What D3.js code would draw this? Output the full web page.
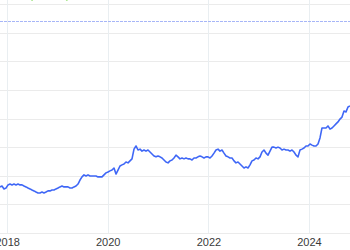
<!DOCTYPE html>
<html>
<head>
<meta charset="utf-8">
<script src="https://cdn.jsdelivr.net/npm/d3@7"></script>
<style>
  body { margin: 0; background: #fff; }
  svg { display: block; font-family: "Liberation Sans", Arial, sans-serif; }
</style>
</head>
<body>
<script>
console.log("price line chart");

/*
		 GLOBAL LAYOUT CONSTANTS
*/
var width = 350;
var height = 250;
var plotBottom = 233;
var plotTop = 4;

/*
		 DATA
		 one value every ~2 weeks, Nov 2017 to Oct 2024
*/
var startDate = new Date(2017, 10, 10);
var endDate = new Date(2024, 9, 25);

var values = [
  16.1,16.4,15.4,15.7,16.8,17.1,16.8,17.1,16.8,17.1,
  16.8,16.8,16.4,16.1,15.7,15.4,15.0,14.7,14.3,14.0,
  14.0,14.3,14.0,14.3,14.7,14.7,15.0,15.0,15.4,15.7,
  16.1,16.4,16.1,16.1,16.1,15.7,15.7,16.1,16.4,17.1,
  18.5,19.6,20.3,19.9,20.3,19.9,19.9,19.9,19.9,19.6,
  19.6,19.6,20.3,21.0,21.3,21.7,22.0,22.7,20.6,22.0,
  23.4,23.8,24.1,24.8,24.5,25.2,25.9,29.3,30.4,29.0,
  29.3,28.6,29.0,28.6,29.0,28.3,27.6,26.9,26.6,26.9,
  26.6,26.2,25.5,24.8,24.5,25.2,25.5,26.2,27.2,26.6,
  25.9,26.2,25.9,26.2,25.9,25.9,25.5,26.2,26.2,26.6,
  26.9,26.6,26.2,26.6,26.6,26.2,26.9,27.9,29.0,29.3,
  28.6,29.0,27.9,26.9,26.6,26.2,26.2,25.2,24.5,24.8,
  24.1,23.4,22.7,23.1,22.7,23.8,25.2,25.5,26.2,25.9,
  26.6,28.3,29.0,27.9,27.2,28.6,30.0,30.0,29.7,30.0,
  29.7,29.0,29.3,29.0,29.0,28.6,29.0,28.3,27.2,26.6,
  29.0,29.3,29.7,30.4,30.4,31.1,30.7,30.4,30.4,31.1,
  33.2,36.7,36.7,36.7,37.4,36.3,36.7,37.4,38.1,38.8,
  39.8,40.5,42.6,42.3,44.0,44.4
];

var yTicks = [0, 10, 20, 30, 40, 50, 60, 70, 80];
var xTickYears = [2018, 2020, 2022, 2024];
var refValue = 74.1;
var markerDates = [new Date(2018, 6, 1), new Date(2019, 2, 10)];

// observation dates, evenly spaced over the range
var step = (endDate - startDate) / (values.length - 1);
var dataset = values.map(function(v, i) {
  return {date: new Date(startDate.getTime() + i * step), value: v};
});

/*
		 SCALES
*/
var x = d3.scaleTime()
    .domain([startDate, endDate])
    .range([0, width]);

var y = d3.scaleLinear()
    .domain([0, 80])
    .range([plotBottom, plotTop]);

var svg = d3.select("body").append("svg")
    .attr("width", width)
    .attr("height", height);

// horizontal grid
svg.append("g").selectAll("line")
    .data(yTicks)
  .enter().append("line")
    .attr("x1", 0)
    .attr("x2", width)
    .attr("y1", function(d) { return Math.round(y(d)) + 0.5; })
    .attr("y2", function(d) { return Math.round(y(d)) + 0.5; })
    .style("stroke", "#ebebeb");

// vertical grid
svg.append("g").selectAll("line")
    .data(xTickYears)
  .enter().append("line")
    .attr("x1", function(d) { return Math.round(x(new Date(d, 0, 1))) + 0.5; })
    .attr("x2", function(d) { return Math.round(x(new Date(d, 0, 1))) + 0.5; })
    .attr("y1", 0)
    .attr("y2", plotBottom)
    .style("stroke", "#e9eef1");

// reference line
svg.append("line")
    .attr("x1", 0)
    .attr("x2", width)
    .attr("y1", Math.round(y(refValue)) + 0.5)
    .attr("y2", Math.round(y(refValue)) + 0.5)
    .style("stroke", "#a7b6f7")
    .style("stroke-dasharray", "3,1");

// little markers at the top edge
svg.append("g").selectAll("circle")
    .data(markerDates)
  .enter().append("circle")
    .attr("cx", function(d) { return x(d); })
    .attr("cy", 0)
    .attr("r", 1)
    .style("fill", "#a6e68a");

// x axis
var xAxis = d3.axisBottom(x)
    .tickValues(xTickYears.map(function(d) { return new Date(d, 0, 1); }))
    .tickFormat(d3.timeFormat("%Y"))
    .tickSize(0)
    .tickPadding(5);

var gx = svg.append("g")
    .attr("transform", "translate(0," + plotBottom + ")")
    .call(xAxis);
gx.select(".domain").remove();
gx.selectAll("text")
    .style("font-size", "11px")
    .style("fill", "#3a3a3a");

// the line
var line = d3.line()
    .x(function(d) { return x(d.date); })
    .y(function(d) { return y(d.value); });

svg.append("path")
    .datum(dataset)
    .attr("d", line)
    .style("fill", "none")
    .style("stroke", "#3f67f6")
    .style("stroke-width", 1.6)
    .style("stroke-linejoin", "round");

console.log("done");
</script>
</body>
</html>
